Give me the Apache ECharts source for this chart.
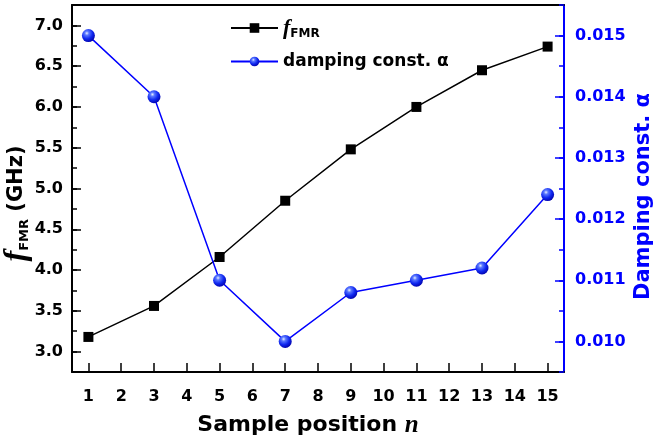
<!DOCTYPE html>
<html>
<head>
<meta charset="utf-8">
<script src="https://cdn.jsdelivr.net/npm/echarts@6/dist/echarts.min.js"></script>
<style>
html,body{margin:0;padding:0;background:#fff;}
#chart{width:661px;height:436px;}
</style>
</head>
<body>
<div id="chart"></div>
<script>
// ---- data ----
const samplePositions = [1, 3, 5, 7, 9, 11, 13, 15];
const fFMR = [3.18, 3.56, 4.16, 4.85, 5.48, 6.00, 6.45, 6.74];
const damping = [0.0150, 0.0140, 0.0110, 0.0100, 0.0108, 0.0110, 0.0112, 0.0124];
const xTickLabels = [1, 2, 3, 4, 5, 6, 7, 8, 9, 10, 11, 12, 13, 14, 15];
const leftTickLabels = [3.0, 3.5, 4.0, 4.5, 5.0, 5.5, 6.0, 6.5, 7.0];
const rightTickLabels = [0.010, 0.011, 0.012, 0.013, 0.014, 0.015];

const FONT = 'DejaVu Sans';
const BLUE = '#0000ff';

const chart = echarts.init(document.getElementById('chart'), null, {renderer: 'canvas'});

const fData = samplePositions.map((x, i) => [x, fFMR[i]]);
const dData = samplePositions.map((x, i) => [x, damping[i]]);

const sphere = {
  type: 'radial', x: 0.38, y: 0.32, r: 0.72,
  colorStops: [
    {offset: 0, color: '#e8eeff'},
    {offset: 0.22, color: '#5a78ff'},
    {offset: 0.6, color: '#1028f0'},
    {offset: 1, color: '#0000a8'}
  ]
};

const option = {
  animation: false,
  backgroundColor: '#fff',
  grid: {left: 72, right: 97, top: 5, bottom: 64, containLabel: false, outerBoundsMode: 'none'},
  legend: [
    {
      data: ['fFMR'], left: 230, top: 17, orient: 'vertical', padding: 0,
      itemWidth: 47, itemHeight: 12, itemGap: 4,
      formatter: () => '{f|f}{s|FMR}',
      textStyle: {
        rich: {
          f: {fontFamily: 'Liberation Serif', fontStyle: 'italic', fontWeight: 'bold', fontSize: 22, color: '#000'},
          s: {fontFamily: FONT, fontWeight: 'bold', fontSize: 12, color: '#000', padding: [12, 0, 0, 0]}
        }
      }
    },
    {
      data: ['damping'], left: 230, top: 53, orient: 'vertical', padding: 0,
      itemWidth: 47, itemHeight: 12, itemGap: 4,
      formatter: () => 'damping const. α',
      textStyle: {fontFamily: FONT, fontWeight: 'bold', fontSize: 17, color: '#000'}
    }
  ],
  xAxis: [
    {
      type: 'value', position: 'bottom', min: 0.5, max: 15.5,
      axisLine: {show: true, onZero: false, lineStyle: {color: '#000', width: 2}},
      axisTick: {show: true, inside: true, length: 9, lineStyle: {color: '#000', width: 1.5}, customValues: xTickLabels},
      axisLabel: {show: true, customValues: xTickLabels, margin: 17, fontFamily: FONT, fontWeight: 'bold', fontSize: 16, color: '#000'},
      splitLine: {show: false},
      name: '{a|Sample position }{n|n}',
      nameLocation: 'middle', nameGap: 41,
      nameTextStyle: {
        padding: [0, 20, 0, 0],
        rich: {
          a: {fontFamily: FONT, fontWeight: 'bold', fontSize: 22, color: '#000'},
          n: {fontFamily: 'Liberation Serif', fontStyle: 'italic', fontWeight: 'bold', fontSize: 25, color: '#000'}
        }
      }
    },
    {
      type: 'value', position: 'top', min: 0.5, max: 15.5,
      axisLine: {show: true, onZero: false, lineStyle: {color: '#000', width: 2}},
      axisTick: {show: false}, axisLabel: {show: false}, splitLine: {show: false}
    }
  ],
  yAxis: [
    {
      type: 'value', position: 'left', min: 2.75, max: 7.25,
      axisLine: {show: true, onZero: false, lineStyle: {color: '#000', width: 2}},
      axisTick: {show: true, inside: true, length: 9, lineStyle: {color: '#000', width: 1.5}, customValues: leftTickLabels},
      axisLabel: {show: true, customValues: leftTickLabels, margin: 9, formatter: v => v.toFixed(1),
        fontFamily: FONT, fontWeight: 'bold', fontSize: 16, color: '#000'},
      splitLine: {show: false},
      name: '{f|f}{s|FMR}{g| (GHz)}',
      nameLocation: 'middle', nameRotate: 90, nameGap: 39, nameMoveOverlap: false,
      nameTextStyle: {
        padding: [0, 30, 0, 0],
        rich: {
          f: {fontFamily: 'Liberation Serif', fontStyle: 'italic', fontWeight: 'bold', fontSize: 32, color: '#000'},
          s: {fontFamily: FONT, fontWeight: 'bold', fontSize: 13, color: '#000', padding: [16, 0, 0, 0]},
          g: {fontFamily: FONT, fontWeight: 'bold', fontSize: 21, color: '#000'}
        }
      }
    },
    {
      type: 'value', position: 'right', min: 0.0095, max: 0.0155,
      axisLine: {show: true, onZero: false, lineStyle: {color: BLUE, width: 2}},
      axisTick: {show: true, inside: true, length: 9, lineStyle: {color: BLUE, width: 1.5}, customValues: rightTickLabels},
      axisLabel: {show: true, customValues: rightTickLabels, margin: 11, formatter: v => v.toFixed(3),
        fontFamily: FONT, fontWeight: 'bold', fontSize: 16, color: BLUE},
      splitLine: {show: false},
      name: 'Damping const. α',
      nameLocation: 'middle', nameRotate: 90, nameGap: 69, nameMoveOverlap: false,
      nameTextStyle: {fontFamily: FONT, fontWeight: 'bold', fontSize: 21, color: BLUE, padding: [0, 16, 0, 0]}
    },
    {
      type: 'value', position: 'left', min: 2.75, max: 7.25, interval: 0.25,
      axisLine: {show: false},
      axisTick: {show: true, inside: true, length: 5, lineStyle: {color: '#000', width: 1.5}},
      axisLabel: {show: false}, splitLine: {show: false}
    },
    {
      type: 'value', position: 'right', min: 0.0095, max: 0.0155, interval: 0.0005,
      axisLine: {show: false},
      axisTick: {show: true, inside: true, length: 5, lineStyle: {color: BLUE, width: 1.5}},
      axisLabel: {show: false}, splitLine: {show: false}
    }
  ],
  series: [
    {
      name: 'fFMR', type: 'line', xAxisIndex: 0, yAxisIndex: 0, data: fData,
      symbol: 'rect', symbolSize: 10, showAllSymbol: true,
      itemStyle: {color: '#000'},
      lineStyle: {color: '#000', width: 1.5},
      z: 3
    },
    {
      name: 'damping', type: 'line', xAxisIndex: 0, yAxisIndex: 1, data: dData,
      symbol: 'circle', symbolSize: 13, showAllSymbol: true,
      itemStyle: {color: sphere},
      lineStyle: {color: BLUE, width: 1.5},
      z: 4
    }
  ]
};
chart.setOption(option);
</script>
</body>
</html>
